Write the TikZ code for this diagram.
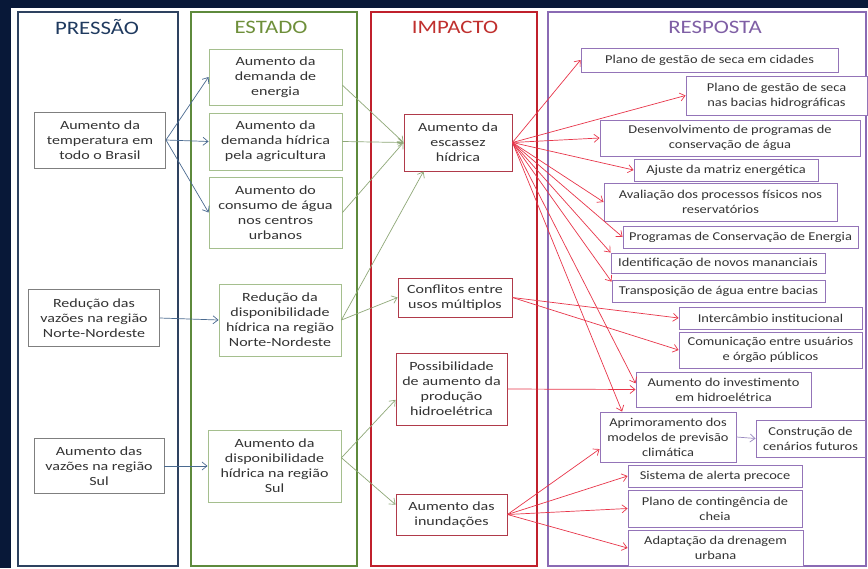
\documentclass[tikz,border=0pt]{standalone}
\usepackage{fontspec}
\setmainfont{Carlito}[FakeStretch=1.2]
\newfontfamily\widefont{Carlito}[FakeStretch=1.28]
\usetikzlibrary{arrows.meta}

\definecolor{navybg}{HTML}{081838}
\definecolor{presscol}{HTML}{2E4260}
\definecolor{estcol}{HTML}{5E8A3C}
\definecolor{impcol}{HTML}{C0202C}
\definecolor{respcol}{HTML}{8A6AB4}
\definecolor{presstitle}{HTML}{1F3A5F}
\definecolor{esttitle}{HTML}{6E8F3A}
\definecolor{imptitle}{HTML}{C0302E}
\definecolor{resptitle}{HTML}{7F5FA5}
\definecolor{textcol}{HTML}{333333}
\definecolor{pboxcol}{HTML}{7F7F7F}
\definecolor{eboxcol}{HTML}{A5BF8E}
\definecolor{iboxcol}{HTML}{B03A4A}
\definecolor{rboxcol}{HTML}{9474B8}
\definecolor{plinkcol}{HTML}{4A6A90}
\definecolor{elinkcol}{HTML}{8FA878}
\definecolor{ilinkcol}{HTML}{E8364A}
\definecolor{rlinkcol}{HTML}{9A8AC0}

\begin{document}
\begin{tikzpicture}[x=1pt, y=-1pt,
    colframe/.style={line width=1.6pt},
    title/.style={font=\fontsize{19}{22}\selectfont},
    box/.style={draw, fill=white, align=center, inner sep=1pt, text=textcol,
      line width=0.9pt, font=\fontsize{12}{15}\selectfont},
    pbox/.style={box, draw=pboxcol, font=\widefont\fontsize{12.5}{15}\selectfont},
    ebox/.style={box, draw=eboxcol, font=\widefont\fontsize{12.5}{15}\selectfont},
    ibox/.style={box, draw=iboxcol, font=\widefont\fontsize{12.5}{15}\selectfont},
    rbox/.style={box, draw=rboxcol},
    link/.style={-{Straight Barb[length=5pt, width=8pt]}, line width=0.7pt},
    plink/.style={link, draw=plinkcol},
    elink/.style={link, draw=elinkcol},
    ilink/.style={link, draw=ilinkcol},
    rlink/.style={link, draw=rlinkcol}]
    \useasboundingbox (0,0) rectangle (868,568);
    \fill[navybg] (0,0) rectangle (868,568);
    \fill[white] (11,8) rectangle (868,568);

    % columns
    \draw[colframe, presscol] (18,12) rectangle (178,566);
    \draw[colframe, estcol] (191,12) rectangle (357,566);
    \draw[colframe, impcol] (371,12) rectangle (537,566);
    \draw[colframe, respcol] (548,12) rectangle (866,566);

    \node[title, text=presstitle] (tpress) at (97,27) {PRESSÃO};
    \node[title, text=esttitle] (test) at (271,27) {ESTADO};
    \node[title, text=imptitle] (timp) at (455,27) {IMPACTO};
    \node[title, text=resptitle] (tresp) at (715,27) {RESPOSTA};

    % pressao
    \node[pbox, minimum width=131, minimum height=56] (p1) at (100,140) {Aumento da\\temperatura em\\todo o Brasil};
    \node[pbox, minimum width=131, minimum height=57] (p2) at (94,318) {Redução das\\vazões na região\\Norte-Nordeste};
    \node[pbox, minimum width=130, minimum height=55] (p3) at (99,466) {Aumento das\\vazões na região\\Sul};

    % estado
    \node[ebox, minimum width=133, minimum height=56] (e1) at (275.5,77) {Aumento da\\demanda de\\energia};
    \node[ebox, minimum width=133, minimum height=57] (e2) at (275.5,141.5) {Aumento da\\demanda hídrica\\pela agricultura};
    \node[ebox, minimum width=133, minimum height=71] (e3) at (275.5,212.5) {Aumento do\\consumo de água\\nos centros\\urbanos};
    \node[ebox, minimum width=122, minimum height=72] (e4) at (280,320) {Redução da\\disponibilidade\\hídrica na região\\Norte-Nordeste};
    \node[ebox, minimum width=133, minimum height=72] (e5) at (274.5,466) {Aumento da\\disponibilidade\\hídrica na região\\Sul};

    % impacto
    \node[ibox, minimum width=108, minimum height=57] (i1) at (458,142.5) {Aumento da\\escassez\\hídrica};
    \node[ibox, minimum width=114, minimum height=39] (i2) at (455,297.5) {Conflitos entre\\usos múltiplos};
    \node[ibox, minimum width=111, minimum height=72] (i3) at (451.5,389) {Possibilidade\\de aumento da\\produção\\hidroelétrica};
    \node[ibox, minimum width=111, minimum height=41] (i4) at (451.5,514.5) {Aumento das\\inundações};

    % resposta
    \node[rbox, minimum width=257, minimum height=24] (r1) at (709.5,60) {Plano de gestão de seca em cidades};
    \node[rbox, minimum width=181, minimum height=39] (r2) at (776.5,95.5) {Plano de gestão de seca\\nas bacias hidrográficas};
    \node[rbox, minimum width=260, minimum height=36] (r3) at (730,138) {Desenvolvimento de programas de\\conservação de água};
    \node[rbox, minimum width=184, minimum height=22] (r4) at (726,170) {Ajuste da matriz energética};
    \node[rbox, minimum width=233, minimum height=38] (r5) at (720.5,202) {Avaliação dos processos físicos nos\\reservatórios};
    \node[rbox, minimum width=235, minimum height=22] (r6) at (740.5,237) {Programas de Conservação de Energia};
    \node[rbox, minimum width=214, minimum height=20] (r7) at (718,263) {Identificação de novos mananciais};
    \node[rbox, minimum width=213, minimum height=22] (r8) at (718.5,291) {Transposição de água entre bacias};
    \node[rbox, minimum width=183, minimum height=22] (r9) at (770.5,318) {Intercâmbio institucional};
    \node[rbox, minimum width=183, minimum height=36] (r10) at (770.5,350) {Comunicação entre usuários\\e órgão públicos};
    \node[rbox, minimum width=175, minimum height=35] (r11) at (723.5,389.5) {Aumento do investimento\\em hidroelétrica};
    \node[rbox, minimum width=136, minimum height=50] (r12) at (668,437) {Aprimoramento dos\\modelos de previsão\\climática};
    \node[rbox, minimum width=109, minimum height=37] (r13) at (810.5,438.5) {Construção de\\cenários futuros};
    \node[rbox, minimum width=174, minimum height=22] (r14) at (715,476) {Sistema de alerta precoce};
    \node[rbox, minimum width=174, minimum height=37] (r15) at (715,508.5) {Plano de contingência de\\cheia};
    \node[rbox, minimum width=175, minimum height=36] (r16) at (715.5,548) {Adaptação da drenagem\\urbana};

    \draw[plink] (p1.east) -- (e1.west);
    \draw[plink] (p1.east) -- (e2.west);
    \draw[plink] (p1.east) -- (e3.west);
    \draw[plink] (p2.east) -- (e4.west);
    \draw[plink] (p3.east) -- (e5.west);

    \draw[elink] (e1.-7) -- (i1.west);
    \draw[elink] (e2.east) -- (i1.west);
    \draw[elink] (e3.east) -- (i1.west);
    \draw[elink] (e4.east) -- (i1.220);
    \draw[elink] (e4.east) -- (i2.west);
    \draw[elink] (e5.7) -- (i3.191);
    \draw[elink] (e5.7) -- (i4.170);

    \draw[ilink] (i1.east) -- (r1.west);
    \draw[ilink] (i1.east) -- (r2.west);
    \draw[ilink] (i1.east) -- (r3.west);
    \draw[ilink] (i1.east) -- (r4.west);
    \draw[ilink] (i1.east) -- (r5.west);
    \draw[ilink] (i1.east) -- (r6.west);
    \draw[ilink] (i1.east) -- (r7.north west);
    \draw[ilink] (i1.east) -- (r8.175);
    \draw[ilink] (i1.east) -- (r11.176);
    \draw[ilink] (i1.east) -- (r12.151);
    \draw[ilink] (i2.east) -- (r9.west);
    \draw[ilink] (i2.east) -- (r10.west);
    \draw[ilink] (i3.east) -- (r11.west);
    \draw[ilink] (i4.east) -- (r12.190);
    \draw[ilink] (i4.east) -- (r14.west);
    \draw[ilink] (i4.east) -- (r15.west);
    \draw[ilink] (i4.east) -- (r16.west);
    \draw[rlink] (r12.east) -- (r13.west);
\end{tikzpicture}
\end{document}
